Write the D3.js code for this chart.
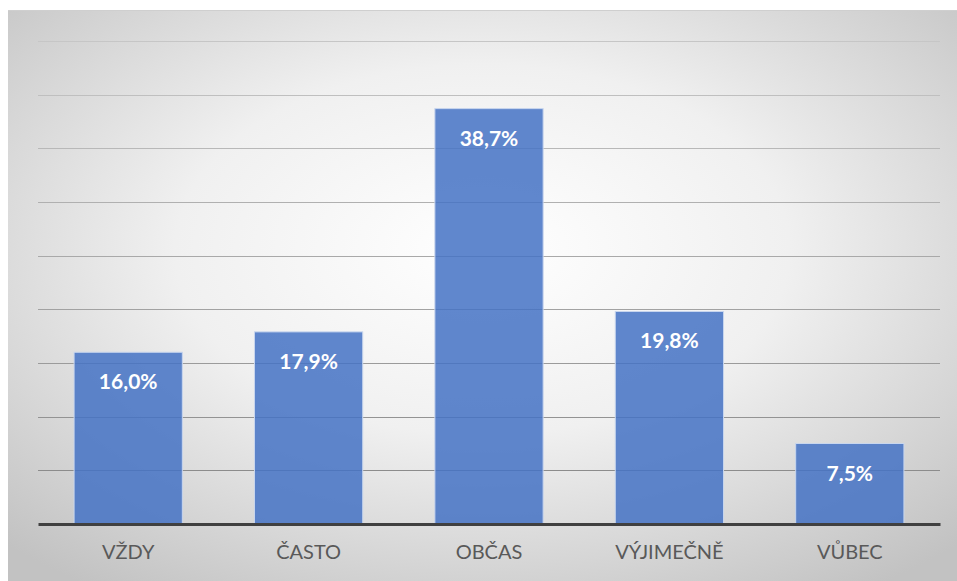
<!DOCTYPE html>
<html>
<head>
<meta charset="utf-8">
<title>bar chart</title>
<script src="https://cdn.jsdelivr.net/npm/d3@7"></script>
<style>
  body { margin: 0; background: #fff; }
  svg { display: block; }
</style>
</head>
<body>
<script>
// data
var categories = ["VŽDY", "ČASTO", "OBČAS", "VÝJIMEČNĚ", "VŮBEC"];
var values = [16.0, 17.9, 38.7, 19.8, 7.5];
var yTicks = [0, 5, 10, 15, 20, 25, 30, 35, 40, 45];

var W = 957, H = 581;
var margin = { left: 38, right: 17, top: 41, bottom: 57 };

var svg = d3.select("body").append("svg")
    .attr("width", W)
    .attr("height", H);

// radial background
var defs = svg.append("defs");
var rg = defs.append("radialGradient")
    .attr("id", "bg")
    .attr("cx", "50%").attr("cy", "42%")
    .attr("r", "72%");
rg.append("stop").attr("offset", "0%").attr("stop-color", "#ffffff");
rg.append("stop").attr("offset", "45%").attr("stop-color", "#f0f0f0");
rg.append("stop").attr("offset", "100%").attr("stop-color", "#c2c2c2");

svg.append("rect")
    .attr("x", 8).attr("y", 10)
    .attr("width", W - 8).attr("height", H - 10)
    .attr("fill", "url(#bg)");
svg.append("line")
    .attr("x1", 8).attr("x2", W)
    .attr("y1", 10.5).attr("y2", 10.5)
    .attr("stroke", "#cfcfcf").attr("stroke-width", 1);

var x = d3.scaleBand()
    .domain(categories)
    .range([margin.left, W - margin.right])
    .paddingInner(0.4)
    .paddingOuter(0.2);

var y = d3.scaleLinear()
    .domain([0, 45])
    .range([H - margin.bottom, margin.top]);

// gridlines (lighter toward top)
var gridColor = d3.scaleLinear().domain([0, 45]).range(["#858585", "#c6c6c6"]);
svg.append("g").selectAll("line")
    .data(yTicks.slice(1))
    .enter().append("line")
    .attr("x1", margin.left).attr("x2", W - margin.right)
    .attr("y1", function(d) { return Math.round(y(d)) + 0.5; })
    .attr("y2", function(d) { return Math.round(y(d)) + 0.5; })
    .attr("stroke", function(d) { return gridColor(d); })
    .attr("stroke-width", 1);

// bars
svg.append("g").selectAll("rect")
    .data(values)
    .enter().append("rect")
    .attr("x", function(d, i) { return x(categories[i]); })
    .attr("y", function(d) { return y(d); })
    .attr("width", x.bandwidth())
    .attr("height", function(d) { return y(0) - y(d); })
    .attr("fill", "#4472c4")
    .attr("fill-opacity", 0.85)
    .attr("stroke", "#c8d6ee")
    .attr("stroke-width", 1);

// value labels
svg.append("g").selectAll("text")
    .data(values)
    .enter().append("text")
    .attr("x", function(d, i) { return x(categories[i]) + x.bandwidth() / 2; })
    .attr("y", function(d) { return y(d) + 37; })
    .attr("text-anchor", "middle")
    .attr("font-family", "Lato, 'Open Sans', sans-serif")
    .attr("font-weight", "bold")
    .attr("font-size", "21px")
    .attr("fill", "#ffffff")
    .text(function(d) { return d.toFixed(1).replace(".", ",") + "%"; });

// baseline axis
var xAxis = d3.axisBottom(x).tickSize(0).tickPadding(21);
var gx = svg.append("g")
    .attr("transform", "translate(0," + y(0) + ")")
    .call(xAxis);
gx.select(".domain")
    .attr("stroke", "#404040")
    .attr("stroke-width", 3);
gx.selectAll("text")
    .attr("font-family", "Lato, 'Open Sans', sans-serif")
    .attr("font-size", "20px")
    .attr("fill", "#595959");
</script>
</body>
</html>
